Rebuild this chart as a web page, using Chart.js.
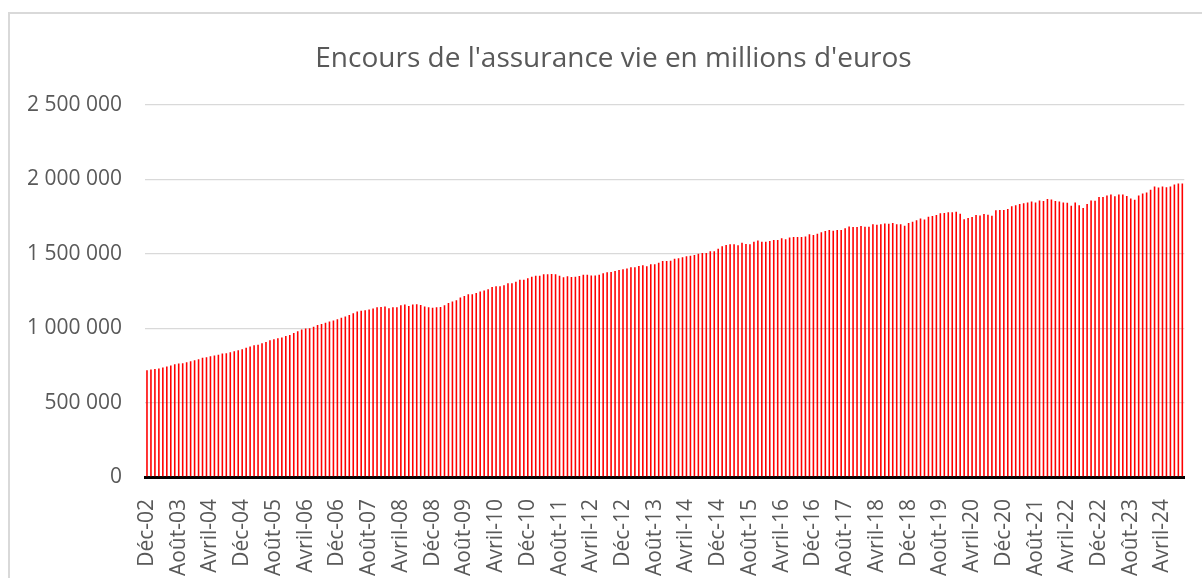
<!DOCTYPE html>
<html lang="fr">
<head>
<meta charset="utf-8">
<title>Encours de l'assurance vie</title>
<script src="https://cdn.jsdelivr.net/npm/chart.js@4/dist/chart.umd.min.js"></script>
<style>
    html, body { margin: 0; padding: 0; background: #fff; overflow: hidden; }
    #cadre {
        position: absolute; left: 8px; top: 12px;
        width: 1400px; height: 800px;
        border: 2px solid #d9d9d9; box-sizing: border-box;
    }
    #titre {
        position: absolute; left: 0; top: 40px; width: 1227px;
        text-align: center; white-space: nowrap;
        font-family: 'Open Sans', 'Noto Sans', sans-serif;
        font-size: 28px; line-height: 33.6px; color: #595959;
    }
    #chartContainer { position: absolute; left: 0; top: 0; width: 1202px; height: 578px; }
</style>
</head>
<body>
<div id="cadre"></div>
<div id="chartContainer"><canvas id="encoursChart"></canvas></div>
<div id="titre">Encours de l'assurance vie en millions d'euros</div>
<script>
// Libellés des mois (format des catégories du tableau source)
const moisNoms = ["Janv", "Févr", "Mars", "Avril", "Mai", "Juin", "Juil", "Août", "Sept", "Oct", "Nov", "Déc"];
const premierMois = 11;      // Déc
const premiereAnnee = 2002;
const nbMois = 262;          // Déc-02 -> Sept-24
const pasLibelle = 8;        // un libellé sur 8 affiché

// Encours en millions d'euros
const encours2002_2006 = [718000, 722000, 725000, 729000, 736000, 742000, 749000, 758000, 763000, 765000, 772000, 778000, 785000, 792000, 801000, 805000, 812000, 816000, 821000, 830000, 832000, 839000, 845000, 852000, 859000, 868000, 877000, 886000, 888000, 899000, 908000, 919000, 926000, 933000, 937000, 948000, 955000, 968000];
const encours2006_2009 = [980000, 991000, 998000, 1000000, 1009000, 1022000, 1029000, 1036000, 1045000, 1051000, 1060000, 1071000, 1078000, 1089000, 1100000, 1112000, 1118000, 1121000, 1125000, 1132000, 1141000, 1143000, 1145000, 1134000, 1141000, 1141000, 1154000, 1159000, 1150000, 1159000, 1161000, 1156000, 1145000, 1141000, 1138000, 1140000, 1143000, 1154000];
const encours2009_2012 = [1170000, 1179000, 1188000, 1206000, 1217000, 1228000, 1228000, 1237000, 1246000, 1253000, 1262000, 1277000, 1282000, 1282000, 1288000, 1302000, 1302000, 1313000, 1326000, 1326000, 1335000, 1346000, 1353000, 1353000, 1362000, 1362000, 1364000, 1362000, 1353000, 1342000, 1349000, 1344000, 1346000, 1351000, 1360000, 1360000, 1355000, 1355000];
const encours2012_2015 = [1360000, 1369000, 1376000, 1378000, 1385000, 1391000, 1396000, 1402000, 1409000, 1409000, 1418000, 1423000, 1416000, 1429000, 1429000, 1440000, 1452000, 1452000, 1454000, 1467000, 1470000, 1476000, 1483000, 1487000, 1492000, 1501000, 1505000, 1505000, 1517000, 1517000, 1534000, 1550000, 1559000, 1564000, 1564000, 1557000, 1575000];
const encours2015_2018 = [1566000, 1564000, 1581000, 1590000, 1581000, 1581000, 1586000, 1593000, 1593000, 1604000, 1597000, 1610000, 1613000, 1613000, 1613000, 1617000, 1631000, 1626000, 1635000, 1644000, 1653000, 1660000, 1655000, 1660000, 1660000, 1671000, 1684000, 1680000, 1680000, 1687000, 1682000, 1682000, 1698000, 1695000, 1698000, 1704000, 1702000];
const encours2018_2021 = [1707000, 1698000, 1698000, 1689000, 1707000, 1716000, 1725000, 1738000, 1731000, 1749000, 1754000, 1760000, 1772000, 1774000, 1780000, 1780000, 1783000, 1769000, 1733000, 1740000, 1747000, 1760000, 1758000, 1767000, 1763000, 1756000, 1792000, 1794000, 1794000, 1801000, 1819000, 1827000, 1834000, 1839000, 1845000, 1852000, 1845000, 1859000];
const encours2021_2024 = [1854000, 1868000, 1865000, 1854000, 1852000, 1845000, 1843000, 1823000, 1845000, 1827000, 1807000, 1834000, 1859000, 1856000, 1881000, 1881000, 1892000, 1899000, 1886000, 1899000, 1899000, 1888000, 1872000, 1863000, 1892000, 1906000, 1912000, 1930000, 1953000, 1946000, 1953000, 1948000, 1953000, 1966000, 1973000, 1973000];

const encours = [].concat(encours2002_2006, encours2006_2009, encours2009_2012,
    encours2012_2015, encours2015_2018, encours2018_2021, encours2021_2024);

// Graduations de l'axe vertical
const yMin = 0;
const yMax = 2500000;
const yPas = 500000;

// Catégories "Déc-02", "Janv-03", ...
const categories = [];
for (let i = 0; i < nbMois; i++) {
    const m = (premierMois + i) % 12;
    const a = premiereAnnee + Math.floor((premierMois + i) / 12);
    categories.push(moisNoms[m] + "-" + String(a % 100).padStart(2, "0"));
}

function formatMilliers(v) {
    return String(v).replace(/\B(?=(\d{3})+(?!\d))/g, " ");
}

const police = "'Open Sans', 'Noto Sans', sans-serif";
const gris = "#595959";

const ctx = document.getElementById("encoursChart").getContext("2d");
new Chart(ctx, {
    type: "bar",
    data: {
        labels: categories,
        datasets: [{
            label: "Encours",
            data: encours,
            backgroundColor: "#ff0000",
            borderWidth: 0,
            categoryPercentage: 1.0,
            barPercentage: 0.4
        }]
    },
    options: {
        responsive: true,
        maintainAspectRatio: false,
        animation: false,
        layout: { padding: { left: 0, right: 15, top: 105, bottom: 0 } },
        plugins: {
            legend: { display: false },
            tooltip: { enabled: false },
            title: { display: false }   // titre en HTML (#titre), centré sur le cadre
        },
        scales: {
            x: {
                grid: { display: false },
                border: { display: true, color: "#000000", width: 3 },
                ticks: {
                    autoSkip: false,
                    minRotation: 90,
                    maxRotation: 90,
                    padding: 14,
                    color: gris,
                    font: { family: police, size: 21 },
                    callback: function (val, index) {
                        return index % pasLibelle === 0 ? this.getLabelForValue(val) : null;
                    }
                },
                afterFit: function (scale) { scale.height = 101; }
            },
            y: {
                min: yMin,
                max: yMax,
                grid: { color: "#d9d9d9", lineWidth: 1.3, drawTicks: false },
                border: { display: false },
                ticks: {
                    stepSize: yPas,
                    padding: 23,
                    color: gris,
                    font: { family: police, size: 21 },
                    callback: function (v) { return formatMilliers(v); }
                },
                afterFit: function (scale) { scale.width = 145; }
            }
        }
    }
});
</script>
</body>
</html>
